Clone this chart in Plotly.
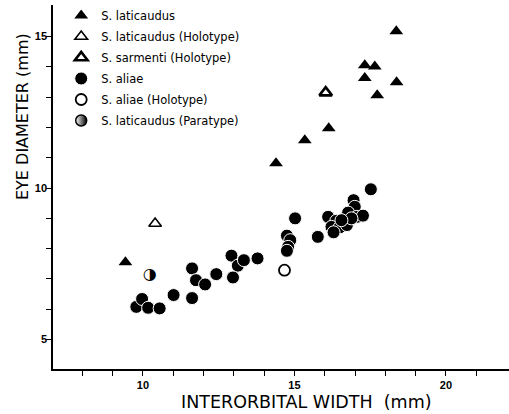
import plotly.graph_objects as go

# ---- data ----
lat_x = [9.42, 14.39, 15.34, 16.13, 17.32, 17.65, 17.32, 18.37, 17.73, 18.36]
lat_y = [7.55, 10.82, 11.58, 11.97, 14.05, 14.01, 13.63, 13.49, 13.06, 15.17]

lat_holo_x = [10.40]
lat_holo_y = [8.83]

sar_holo_x = [16.03]
sar_holo_y = [13.15]

aliae_x = [9.78, 9.97, 10.17, 10.55, 11.01, 11.62, 11.75, 11.62, 12.05, 12.42,
           12.92, 13.13, 13.33, 12.97, 13.78,
           14.75, 14.86, 14.79, 14.75, 15.02, 15.77,
           17.52, 16.95, 16.99, 16.77, 17.06, 17.26, 16.11, 16.38, 16.22, 16.49,
           16.29, 16.73, 16.88, 16.55]
aliae_y = [6.08, 6.34, 6.05, 6.03, 6.47, 7.35, 6.96, 6.37, 6.82, 7.16,
           7.77, 7.44, 7.62, 7.05, 7.68,
           8.43, 8.28, 8.06, 7.93, 9.00, 8.39,
           9.96, 9.60, 9.38, 9.19, 9.05, 9.09, 9.05, 8.92, 8.72, 8.70,
           8.54, 8.78, 9.00, 8.94]

aliae_holo_x = [14.67]
aliae_holo_y = [7.29]

para_x = [10.22]
para_y = [7.13]

x_tickvals = list(range(8, 22))
x_ticktext = ["10" if v == 10 else "15" if v == 15 else "20" if v == 20 else "" for v in x_tickvals]
y_tickvals = list(range(5, 16))
y_ticktext = ["5" if v == 5 else "10" if v == 10 else "15" if v == 15 else "" for v in y_tickvals]

x_title = "INTERORBITAL WIDTH  (mm)"
y_title = "EYE DIAMETER (mm)"

# ---- figure ----
fig = go.Figure()

fig.add_trace(go.Scatter(x=lat_x, y=lat_y, mode="markers", name="S. laticaudus",
                         legendgroup="a",
                         marker=dict(symbol="triangle-up", size=12, color="black",
                                     line=dict(width=0))))
fig.add_trace(go.Scatter(x=lat_holo_x, y=lat_holo_y, mode="markers",
                         name="S. laticaudus (Holotype)", legendgroup="b",
                         marker=dict(symbol="triangle-up-open", size=11, color="black",
                                     line=dict(width=1.6, color="black"))))
fig.add_trace(go.Scatter(x=sar_holo_x, y=sar_holo_y, mode="markers",
                         name="S. sarmenti (Holotype)", legendgroup="c",
                         marker=dict(symbol="triangle-up-open", size=11, color="black",
                                     line=dict(width=2.6, color="black"))))
fig.add_trace(go.Scatter(x=aliae_x, y=aliae_y, mode="markers", name="S. aliae",
                         legendgroup="d",
                         marker=dict(symbol="circle", size=13, color="black",
                                     line=dict(width=1, color="white"))))
fig.add_trace(go.Scatter(x=aliae_holo_x, y=aliae_holo_y, mode="markers",
                         name="S. aliae (Holotype)", legendgroup="e",
                         marker=dict(symbol="circle-open", size=11, color="black",
                                     line=dict(width=1.8, color="black"))))
# paratype: half-filled circle drawn as glyph at the data point
fig.add_trace(go.Scatter(x=para_x, y=para_y, mode="text", text=["\u25D1"],
                         textposition="middle center", showlegend=False,
                         legendgroup="f",
                         textfont=dict(family="DejaVu Sans", size=16, color="black")))
fig.add_trace(go.Scatter(x=[None], y=[None], mode="markers",
                         name="S. laticaudus (Paratype)", legendgroup="f",
                         marker=dict(symbol="circle", size=11, color="white",
                                     gradient=dict(type="horizontal", color="black"),
                                     line=dict(width=1.5, color="black"))))

axis_common = dict(showline=True, linecolor="black", linewidth=1.5,
                   ticks="outside", ticklen=5, tickwidth=1.3, tickcolor="black",
                   showgrid=False, zeroline=False, automargin=False,
                   tickfont=dict(family="Liberation Sans", size=11, color="black",
                                 weight="bold"))

fig.update_layout(
    width=509, height=414,
    margin=dict(l=53, r=0, t=5, b=45),
    paper_bgcolor="white", plot_bgcolor="white",
    showlegend=True,
    legend=dict(x=0.018, y=1.011, xanchor="left", yanchor="top",
                bgcolor="rgba(0,0,0,0)", tracegroupgap=2, itemwidth=30,
                font=dict(family="DejaVu Sans", size=11.5, color="black")),
    xaxis=dict(range=[7.03, 22.08], tickvals=x_tickvals, ticktext=x_ticktext,
               **axis_common),
    yaxis=dict(range=[4.03, 16.04], tickvals=y_tickvals, ticktext=y_ticktext,
               ticklabelstandoff=-3, **axis_common),
    annotations=[
        dict(text=x_title, xref="paper", yref="paper", x=0.557, y=-0.091,
             xanchor="center", yanchor="middle", showarrow=False,
             font=dict(family="DejaVu Sans", size=17.5, color="black")),
        dict(text=y_title, xref="paper", yref="paper", x=-0.068, y=0.695,
             xanchor="center", yanchor="middle", showarrow=False, textangle=-90,
             font=dict(family="DejaVu Sans", size=16, color="black")),
    ],
)

fig.write_html("out.html", config={"displayModeBar": False},
               post_script="document.body.style.margin='0';")
